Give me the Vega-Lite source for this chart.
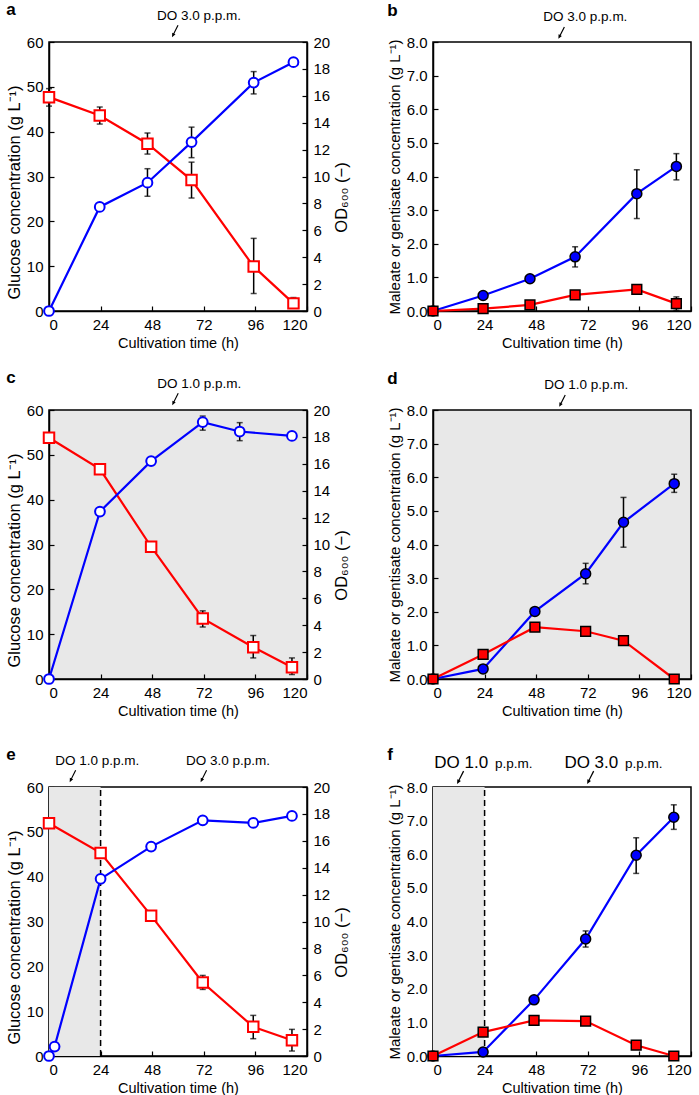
{
"$schema": "https://vega.github.io/schema/vega-lite/v6.json",
"background": "white",
"padding": {"left": 5, "top": 0, "right": 2, "bottom": 0},
"datasets": {
"obs": [
{"p":"a","s":"glc","t":0,"v":47.7,"lo":45.7,"hi":49.6},
{"p":"a","s":"glc","t":23.6,"v":43.6,"lo":41.7,"hi":45.5},
{"p":"a","s":"glc","t":45.8,"v":37.3,"lo":35.0,"hi":39.7},
{"p":"a","s":"glc","t":66.3,"v":29.2,"lo":25.2,"hi":33.2},
{"p":"a","s":"glc","t":95.2,"v":9.9,"lo":3.9,"hi":16.2},
{"p":"a","s":"glc","t":113.7,"v":1.7,"lo":1.0,"hi":3.0},
{"p":"a","s":"od","t":0,"v":0},
{"p":"a","s":"od","t":23.6,"v":7.74},
{"p":"a","s":"od","t":45.8,"v":9.54,"lo":8.53,"hi":10.58},
{"p":"a","s":"od","t":66.3,"v":12.56,"lo":11.4,"hi":13.67},
{"p":"a","s":"od","t":95.2,"v":16.98,"lo":16.14,"hi":17.8},
{"p":"a","s":"od","t":113.7,"v":18.5},
{"p":"b","s":"maleate","t":0,"v":0},
{"p":"b","s":"maleate","t":23.3,"v":0.46},
{"p":"b","s":"maleate","t":45.1,"v":0.96},
{"p":"b","s":"maleate","t":66.1,"v":1.61,"lo":1.31,"hi":1.91},
{"p":"b","s":"maleate","t":94.8,"v":3.49,"lo":2.75,"hi":4.2},
{"p":"b","s":"maleate","t":113.2,"v":4.3,"lo":3.9,"hi":4.68},
{"p":"b","s":"gentisate","t":0,"v":0},
{"p":"b","s":"gentisate","t":23.3,"v":0.07},
{"p":"b","s":"gentisate","t":45.1,"v":0.18},
{"p":"b","s":"gentisate","t":66.1,"v":0.48},
{"p":"b","s":"gentisate","t":94.8,"v":0.64},
{"p":"b","s":"gentisate","t":113.2,"v":0.22,"lo":0.02,"hi":0.42},
{"p":"c","s":"glc","t":0,"v":53.8},
{"p":"c","s":"glc","t":23.7,"v":46.8},
{"p":"c","s":"glc","t":47.5,"v":29.5},
{"p":"c","s":"glc","t":71.5,"v":13.5,"lo":11.6,"hi":15.2},
{"p":"c","s":"glc","t":95,"v":7.1,"lo":4.7,"hi":9.7},
{"p":"c","s":"glc","t":113,"v":2.6,"lo":1.0,"hi":4.7},
{"p":"c","s":"od","t":0,"v":0},
{"p":"c","s":"od","t":23.7,"v":12.45},
{"p":"c","s":"od","t":47.5,"v":16.2},
{"p":"c","s":"od","t":71.5,"v":19.1,"lo":18.5,"hi":19.55},
{"p":"c","s":"od","t":88.7,"v":18.4,"lo":17.72,"hi":19.06},
{"p":"c","s":"od","t":113,"v":18.07},
{"p":"d","s":"maleate","t":0,"v":0},
{"p":"d","s":"maleate","t":23.3,"v":0.3},
{"p":"d","s":"maleate","t":47.4,"v":2.01},
{"p":"d","s":"maleate","t":71,"v":3.13,"lo":2.83,"hi":3.44},
{"p":"d","s":"maleate","t":88.6,"v":4.66,"lo":3.92,"hi":5.4},
{"p":"d","s":"maleate","t":112.2,"v":5.81,"lo":5.55,"hi":6.09},
{"p":"d","s":"gentisate","t":0,"v":0},
{"p":"d","s":"gentisate","t":23.3,"v":0.73},
{"p":"d","s":"gentisate","t":47.4,"v":1.54},
{"p":"d","s":"gentisate","t":71,"v":1.42},
{"p":"d","s":"gentisate","t":88.6,"v":1.14},
{"p":"d","s":"gentisate","t":112.2,"v":0},
{"p":"e","s":"glc","t":0,"v":51.9},
{"p":"e","s":"glc","t":24,"v":45.3},
{"p":"e","s":"glc","t":47.5,"v":31.3},
{"p":"e","s":"glc","t":71.5,"v":16.4,"lo":14.85,"hi":17.97},
{"p":"e","s":"glc","t":95,"v":6.5,"lo":3.86,"hi":9.06},
{"p":"e","s":"glc","t":113,"v":3.5,"lo":1.11,"hi":5.94},
{"p":"e","s":"od","t":0,"v":0},
{"p":"e","s":"od","t":2.6,"v":0.7},
{"p":"e","s":"od","t":24,"v":13.17},
{"p":"e","s":"od","t":47.5,"v":15.57},
{"p":"e","s":"od","t":71.5,"v":17.52},
{"p":"e","s":"od","t":95,"v":17.33},
{"p":"e","s":"od","t":113,"v":17.85},
{"p":"f","s":"maleate","t":0,"v":0},
{"p":"f","s":"maleate","t":23.3,"v":0.12},
{"p":"f","s":"maleate","t":47,"v":1.67},
{"p":"f","s":"maleate","t":71,"v":3.48,"lo":3.24,"hi":3.72},
{"p":"f","s":"maleate","t":94.5,"v":5.97,"lo":5.43,"hi":6.49},
{"p":"f","s":"maleate","t":112,"v":7.1,"lo":6.74,"hi":7.47},
{"p":"f","s":"gentisate","t":0,"v":0},
{"p":"f","s":"gentisate","t":23.3,"v":0.71},
{"p":"f","s":"gentisate","t":47,"v":1.06},
{"p":"f","s":"gentisate","t":71,"v":1.04},
{"p":"f","s":"gentisate","t":94.5,"v":0.32},
{"p":"f","s":"gentisate","t":112,"v":0}
],
"notes": [
{"p":"a","t":58.6,"label":"DO 3.0 p.p.m."},
{"p":"b","t":59.7,"label":"DO 3.0 p.p.m."},
{"p":"c","t":58.7,"label":"DO 1.0 p.p.m."},
{"p":"d","t":60.1,"label":"DO 1.0 p.p.m."},
{"p":"e","t":11.0,"label":"DO 1.0 p.p.m."},
{"p":"e","t":71.9,"label":"DO 3.0 p.p.m."},
{"p":"f","t":12.7,"label":"DO 1.0"},
{"p":"f","t":73.2,"label":"DO 3.0"}
],
"phases": [
{"p":"e","t0":0,"t1":24},
{"p":"f","t0":0,"t1":24}
]
},
"spacing": 17,
"vconcat": [
{"spacing": 35, "hconcat": [
{
"width": 258, "height": 269,
"title": {"text": "a"},
"layer": [
{"layer": [
{"data": {"name": "obs"}, "transform": [{"filter": "datum.p==='a' && datum.s==='glc' && isValid(datum.lo)"}],
 "mark": {"type": "errorbar", "color": "black", "ticks": {"size": 6, "thickness": 1.5}, "rule": {"strokeWidth": 1.5}},
 "encoding": {"x": {"field": "t", "type": "quantitative", "scale": {"domain": [0,120]}, "axis": {"values": [0,24,48,72,96,120]}, "title": "Cultivation time (h)"},
  "y": {"field": "lo", "type": "quantitative", "scale": {"domain": [0,60]}, "axis": {"values": [0,10,20,30,40,50,60], "orient": "left", "titleFontSize": 16.5, "titleY": 150}, "title": "Glucose concentration (g L⁻¹)"}, "y2": {"field": "hi"}}},
{"data": {"name": "obs"}, "transform": [{"filter": "datum.p==='a' && datum.s==='glc'"}],
 "mark": {"type": "line", "color": "#ff0000", "strokeWidth": 2.2},
 "encoding": {"x": {"field": "t", "type": "quantitative", "scale": {"domain": [0,120]}, "axis": {"values": [0,24,48,72,96,120]}, "title": "Cultivation time (h)"},
  "y": {"field": "v", "type": "quantitative", "scale": {"domain": [0,60]}, "axis": {"values": [0,10,20,30,40,50,60], "orient": "left", "titleFontSize": 16.5, "titleY": 150}, "title": "Glucose concentration (g L⁻¹)"}}},
{"data": {"name": "obs"}, "transform": [{"filter": "datum.p==='a' && datum.s==='glc'"}],
 "mark": {"type": "point", "shape": "square", "filled": true, "fill": "white", "stroke": "#ff0000", "strokeWidth": 2, "size": 110, "opacity": 1},
 "encoding": {"x": {"field": "t", "type": "quantitative", "scale": {"domain": [0,120]}, "axis": {"values": [0,24,48,72,96,120]}, "title": "Cultivation time (h)"},
  "y": {"field": "v", "type": "quantitative", "scale": {"domain": [0,60]}, "axis": {"values": [0,10,20,30,40,50,60], "orient": "left", "titleFontSize": 16.5, "titleY": 150}, "title": "Glucose concentration (g L⁻¹)"}}},
{"data": {"name": "notes"}, "transform": [{"filter": "datum.p==='a'"}],
 "mark": {"type": "point", "shape": "M0.6,-0.96L-0.11,0.42L0.09,0.52L-0.5,1L-0.47,0.24L-0.27,0.33L0.42,-1.05Z", "filled": true, "color": "black", "size": 140, "opacity": 1},
 "encoding": {"x": {"field": "t", "type": "quantitative", "scale": {"domain": [0,120]}, "axis": {"values": [0,24,48,72,96,120]}, "title": "Cultivation time (h)"},
  "y": {"datum": 62.4, "type": "quantitative", "scale": {"domain": [0,60]}, "axis": {"values": [0,10,20,30,40,50,60], "orient": "left", "titleFontSize": 16.5, "titleY": 150}, "title": "Glucose concentration (g L⁻¹)"}}},
{"data": {"name": "notes"}, "transform": [{"filter": "datum.p==='a'"}],
 "mark": {"type": "text", "dx": 24, "align": "center", "baseline": "middle", "fontSize": 13.5, "color": "black"},
 "encoding": {"x": {"field": "t", "type": "quantitative", "scale": {"domain": [0,120]}, "axis": {"values": [0,24,48,72,96,120]}, "title": "Cultivation time (h)"},
  "y": {"datum": 65.8, "type": "quantitative", "scale": {"domain": [0,60]}, "axis": {"values": [0,10,20,30,40,50,60], "orient": "left", "titleFontSize": 16.5, "titleY": 150}, "title": "Glucose concentration (g L⁻¹)"}, "text": {"field": "label"}}}
]},
{"layer": [
{"data": {"name": "obs"}, "transform": [{"filter": "datum.p==='a' && datum.s==='od' && isValid(datum.lo)"}],
 "mark": {"type": "errorbar", "color": "black", "ticks": {"size": 6, "thickness": 1.5}, "rule": {"strokeWidth": 1.5}},
 "encoding": {"x": {"field": "t", "type": "quantitative", "scale": {"domain": [0,120]}, "axis": {"values": [0,24,48,72,96,120]}, "title": "Cultivation time (h)"},
  "y": {"field": "lo", "type": "quantitative", "scale": {"domain": [0,20]}, "axis": {"values": [0,2,4,6,8,10,12,14,16,18,20], "orient": "right", "titleAngle": 270, "titleBaseline": "top", "titleFontSize": 16.5, "titleY": 155}, "title": "OD₆₀₀ (−)"}, "y2": {"field": "hi"}}},
{"data": {"name": "obs"}, "transform": [{"filter": "datum.p==='a' && datum.s==='od'"}],
 "mark": {"type": "line", "color": "#0000ff", "strokeWidth": 2.2},
 "encoding": {"x": {"field": "t", "type": "quantitative", "scale": {"domain": [0,120]}, "axis": {"values": [0,24,48,72,96,120]}, "title": "Cultivation time (h)"},
  "y": {"field": "v", "type": "quantitative", "scale": {"domain": [0,20]}, "axis": {"values": [0,2,4,6,8,10,12,14,16,18,20], "orient": "right", "titleAngle": 270, "titleBaseline": "top", "titleFontSize": 16.5, "titleY": 155}, "title": "OD₆₀₀ (−)"}}},
{"data": {"name": "obs"}, "transform": [{"filter": "datum.p==='a' && datum.s==='od'"}],
 "mark": {"type": "point", "shape": "circle", "filled": true, "fill": "white", "stroke": "#0000ff", "strokeWidth": 2, "size": 95, "opacity": 1},
 "encoding": {"x": {"field": "t", "type": "quantitative", "scale": {"domain": [0,120]}, "axis": {"values": [0,24,48,72,96,120]}, "title": "Cultivation time (h)"},
  "y": {"field": "v", "type": "quantitative", "scale": {"domain": [0,20]}, "axis": {"values": [0,2,4,6,8,10,12,14,16,18,20], "orient": "right", "titleAngle": 270, "titleBaseline": "top", "titleFontSize": 16.5, "titleY": 155}, "title": "OD₆₀₀ (−)"}}}
]}
],
"resolve": {"scale": {"y": "independent"}}
},
{
"width": 258, "height": 269,
"title": {"text": "b"},
"layer": [
{"data": {"name": "obs"}, "transform": [{"filter": "datum.p==='b' && datum.s==='maleate' && isValid(datum.lo)"}],
 "mark": {"type": "errorbar", "color": "black", "ticks": {"size": 6, "thickness": 1.5}, "rule": {"strokeWidth": 1.5}},
 "encoding": {"x": {"field": "t", "type": "quantitative", "scale": {"domain": [0,120]}, "axis": {"values": [0,24,48,72,96,120]}, "title": "Cultivation time (h)"},
  "y": {"field": "lo", "type": "quantitative", "scale": {"domain": [0,8]}, "axis": {"values": [0,1,2,3,4,5,6,7,8], "format": ".1f", "titleFontSize": 15}, "title": "Maleate or gentisate concentration (g L⁻¹)"}, "y2": {"field": "hi"}}},
{"data": {"name": "obs"}, "transform": [{"filter": "datum.p==='b' && datum.s==='maleate'"}],
 "mark": {"type": "line", "color": "#0000ff", "strokeWidth": 2.2},
 "encoding": {"x": {"field": "t", "type": "quantitative", "scale": {"domain": [0,120]}, "axis": {"values": [0,24,48,72,96,120]}, "title": "Cultivation time (h)"},
  "y": {"field": "v", "type": "quantitative", "scale": {"domain": [0,8]}, "axis": {"values": [0,1,2,3,4,5,6,7,8], "format": ".1f", "titleFontSize": 15}, "title": "Maleate or gentisate concentration (g L⁻¹)"}}},
{"data": {"name": "obs"}, "transform": [{"filter": "datum.p==='b' && datum.s==='maleate'"}],
 "mark": {"type": "point", "shape": "circle", "filled": true, "fill": "#0000ff", "stroke": "black", "strokeWidth": 1.5, "size": 100, "opacity": 1},
 "encoding": {"x": {"field": "t", "type": "quantitative", "scale": {"domain": [0,120]}, "axis": {"values": [0,24,48,72,96,120]}, "title": "Cultivation time (h)"},
  "y": {"field": "v", "type": "quantitative", "scale": {"domain": [0,8]}, "axis": {"values": [0,1,2,3,4,5,6,7,8], "format": ".1f", "titleFontSize": 15}, "title": "Maleate or gentisate concentration (g L⁻¹)"}}},
{"data": {"name": "obs"}, "transform": [{"filter": "datum.p==='b' && datum.s==='gentisate' && isValid(datum.lo)"}],
 "mark": {"type": "errorbar", "color": "black", "ticks": {"size": 6, "thickness": 1.5}, "rule": {"strokeWidth": 1.5}},
 "encoding": {"x": {"field": "t", "type": "quantitative", "scale": {"domain": [0,120]}, "axis": {"values": [0,24,48,72,96,120]}, "title": "Cultivation time (h)"},
  "y": {"field": "lo", "type": "quantitative", "scale": {"domain": [0,8]}, "axis": {"values": [0,1,2,3,4,5,6,7,8], "format": ".1f", "titleFontSize": 15}, "title": "Maleate or gentisate concentration (g L⁻¹)"}, "y2": {"field": "hi"}}},
{"data": {"name": "obs"}, "transform": [{"filter": "datum.p==='b' && datum.s==='gentisate'"}],
 "mark": {"type": "line", "color": "#ff0000", "strokeWidth": 2.2},
 "encoding": {"x": {"field": "t", "type": "quantitative", "scale": {"domain": [0,120]}, "axis": {"values": [0,24,48,72,96,120]}, "title": "Cultivation time (h)"},
  "y": {"field": "v", "type": "quantitative", "scale": {"domain": [0,8]}, "axis": {"values": [0,1,2,3,4,5,6,7,8], "format": ".1f", "titleFontSize": 15}, "title": "Maleate or gentisate concentration (g L⁻¹)"}}},
{"data": {"name": "obs"}, "transform": [{"filter": "datum.p==='b' && datum.s==='gentisate'"}],
 "mark": {"type": "point", "shape": "square", "filled": true, "fill": "#ff0000", "stroke": "black", "strokeWidth": 1.5, "size": 95, "opacity": 1},
 "encoding": {"x": {"field": "t", "type": "quantitative", "scale": {"domain": [0,120]}, "axis": {"values": [0,24,48,72,96,120]}, "title": "Cultivation time (h)"},
  "y": {"field": "v", "type": "quantitative", "scale": {"domain": [0,8]}, "axis": {"values": [0,1,2,3,4,5,6,7,8], "format": ".1f", "titleFontSize": 15}, "title": "Maleate or gentisate concentration (g L⁻¹)"}}},
{"data": {"name": "notes"}, "transform": [{"filter": "datum.p==='b'"}],
 "mark": {"type": "point", "shape": "M0.6,-0.96L-0.11,0.42L0.09,0.52L-0.5,1L-0.47,0.24L-0.27,0.33L0.42,-1.05Z", "filled": true, "color": "black", "size": 140, "opacity": 1},
 "encoding": {"x": {"field": "t", "type": "quantitative", "scale": {"domain": [0,120]}, "axis": {"values": [0,24,48,72,96,120]}, "title": "Cultivation time (h)"},
  "y": {"datum": 8.27, "type": "quantitative", "scale": {"domain": [0,8]}, "axis": {"values": [0,1,2,3,4,5,6,7,8], "format": ".1f", "titleFontSize": 15}, "title": "Maleate or gentisate concentration (g L⁻¹)"}}},
{"data": {"name": "notes"}, "transform": [{"filter": "datum.p==='b'"}],
 "mark": {"type": "text", "dx": 24, "align": "center", "baseline": "middle", "fontSize": 13.5, "color": "black"},
 "encoding": {"x": {"field": "t", "type": "quantitative", "scale": {"domain": [0,120]}, "axis": {"values": [0,24,48,72,96,120]}, "title": "Cultivation time (h)"},
  "y": {"datum": 8.74, "type": "quantitative", "scale": {"domain": [0,8]}, "axis": {"values": [0,1,2,3,4,5,6,7,8], "format": ".1f", "titleFontSize": 15}, "title": "Maleate or gentisate concentration (g L⁻¹)"}, "text": {"field": "label"}}}
]
}
]},
{"spacing": 26, "vconcat": [
{"spacing": 35, "hconcat": [
{
"width": 258, "height": 269,
"title": {"text": "c"},
"view": {"fill": "#e8e8e8", "stroke": "black", "strokeWidth": 1.5},
"layer": [
{"layer": [
{"data": {"name": "obs"}, "transform": [{"filter": "datum.p==='c' && datum.s==='glc' && isValid(datum.lo)"}],
 "mark": {"type": "errorbar", "color": "black", "ticks": {"size": 6, "thickness": 1.5}, "rule": {"strokeWidth": 1.5}},
 "encoding": {"x": {"field": "t", "type": "quantitative", "scale": {"domain": [0,120]}, "axis": {"values": [0,24,48,72,96,120]}, "title": "Cultivation time (h)"},
  "y": {"field": "lo", "type": "quantitative", "scale": {"domain": [0,60]}, "axis": {"values": [0,10,20,30,40,50,60], "orient": "left", "titleFontSize": 16.5, "titleY": 150}, "title": "Glucose concentration (g L⁻¹)"}, "y2": {"field": "hi"}}},
{"data": {"name": "obs"}, "transform": [{"filter": "datum.p==='c' && datum.s==='glc'"}],
 "mark": {"type": "line", "color": "#ff0000", "strokeWidth": 2.2},
 "encoding": {"x": {"field": "t", "type": "quantitative", "scale": {"domain": [0,120]}, "axis": {"values": [0,24,48,72,96,120]}, "title": "Cultivation time (h)"},
  "y": {"field": "v", "type": "quantitative", "scale": {"domain": [0,60]}, "axis": {"values": [0,10,20,30,40,50,60], "orient": "left", "titleFontSize": 16.5, "titleY": 150}, "title": "Glucose concentration (g L⁻¹)"}}},
{"data": {"name": "obs"}, "transform": [{"filter": "datum.p==='c' && datum.s==='glc'"}],
 "mark": {"type": "point", "shape": "square", "filled": true, "fill": "white", "stroke": "#ff0000", "strokeWidth": 2, "size": 110, "opacity": 1},
 "encoding": {"x": {"field": "t", "type": "quantitative", "scale": {"domain": [0,120]}, "axis": {"values": [0,24,48,72,96,120]}, "title": "Cultivation time (h)"},
  "y": {"field": "v", "type": "quantitative", "scale": {"domain": [0,60]}, "axis": {"values": [0,10,20,30,40,50,60], "orient": "left", "titleFontSize": 16.5, "titleY": 150}, "title": "Glucose concentration (g L⁻¹)"}}},
{"data": {"name": "notes"}, "transform": [{"filter": "datum.p==='c'"}],
 "mark": {"type": "point", "shape": "M0.6,-0.96L-0.11,0.42L0.09,0.52L-0.5,1L-0.47,0.24L-0.27,0.33L0.42,-1.05Z", "filled": true, "color": "black", "size": 140, "opacity": 1},
 "encoding": {"x": {"field": "t", "type": "quantitative", "scale": {"domain": [0,120]}, "axis": {"values": [0,24,48,72,96,120]}, "title": "Cultivation time (h)"},
  "y": {"datum": 62.4, "type": "quantitative", "scale": {"domain": [0,60]}, "axis": {"values": [0,10,20,30,40,50,60], "orient": "left", "titleFontSize": 16.5, "titleY": 150}, "title": "Glucose concentration (g L⁻¹)"}}},
{"data": {"name": "notes"}, "transform": [{"filter": "datum.p==='c'"}],
 "mark": {"type": "text", "dx": 24, "align": "center", "baseline": "middle", "fontSize": 13.5, "color": "black"},
 "encoding": {"x": {"field": "t", "type": "quantitative", "scale": {"domain": [0,120]}, "axis": {"values": [0,24,48,72,96,120]}, "title": "Cultivation time (h)"},
  "y": {"datum": 65.8, "type": "quantitative", "scale": {"domain": [0,60]}, "axis": {"values": [0,10,20,30,40,50,60], "orient": "left", "titleFontSize": 16.5, "titleY": 150}, "title": "Glucose concentration (g L⁻¹)"}, "text": {"field": "label"}}}
]},
{"layer": [
{"data": {"name": "obs"}, "transform": [{"filter": "datum.p==='c' && datum.s==='od' && isValid(datum.lo)"}],
 "mark": {"type": "errorbar", "color": "black", "ticks": {"size": 6, "thickness": 1.5}, "rule": {"strokeWidth": 1.5}},
 "encoding": {"x": {"field": "t", "type": "quantitative", "scale": {"domain": [0,120]}, "axis": {"values": [0,24,48,72,96,120]}, "title": "Cultivation time (h)"},
  "y": {"field": "lo", "type": "quantitative", "scale": {"domain": [0,20]}, "axis": {"values": [0,2,4,6,8,10,12,14,16,18,20], "orient": "right", "titleAngle": 270, "titleBaseline": "top", "titleFontSize": 16.5, "titleY": 155}, "title": "OD₆₀₀ (−)"}, "y2": {"field": "hi"}}},
{"data": {"name": "obs"}, "transform": [{"filter": "datum.p==='c' && datum.s==='od'"}],
 "mark": {"type": "line", "color": "#0000ff", "strokeWidth": 2.2},
 "encoding": {"x": {"field": "t", "type": "quantitative", "scale": {"domain": [0,120]}, "axis": {"values": [0,24,48,72,96,120]}, "title": "Cultivation time (h)"},
  "y": {"field": "v", "type": "quantitative", "scale": {"domain": [0,20]}, "axis": {"values": [0,2,4,6,8,10,12,14,16,18,20], "orient": "right", "titleAngle": 270, "titleBaseline": "top", "titleFontSize": 16.5, "titleY": 155}, "title": "OD₆₀₀ (−)"}}},
{"data": {"name": "obs"}, "transform": [{"filter": "datum.p==='c' && datum.s==='od'"}],
 "mark": {"type": "point", "shape": "circle", "filled": true, "fill": "white", "stroke": "#0000ff", "strokeWidth": 2, "size": 95, "opacity": 1},
 "encoding": {"x": {"field": "t", "type": "quantitative", "scale": {"domain": [0,120]}, "axis": {"values": [0,24,48,72,96,120]}, "title": "Cultivation time (h)"},
  "y": {"field": "v", "type": "quantitative", "scale": {"domain": [0,20]}, "axis": {"values": [0,2,4,6,8,10,12,14,16,18,20], "orient": "right", "titleAngle": 270, "titleBaseline": "top", "titleFontSize": 16.5, "titleY": 155}, "title": "OD₆₀₀ (−)"}}}
]}
],
"resolve": {"scale": {"y": "independent"}}
},
{
"width": 258, "height": 269,
"title": {"text": "d"},
"view": {"fill": "#e8e8e8", "stroke": "black", "strokeWidth": 1.5},
"layer": [
{"data": {"name": "obs"}, "transform": [{"filter": "datum.p==='d' && datum.s==='maleate' && isValid(datum.lo)"}],
 "mark": {"type": "errorbar", "color": "black", "ticks": {"size": 6, "thickness": 1.5}, "rule": {"strokeWidth": 1.5}},
 "encoding": {"x": {"field": "t", "type": "quantitative", "scale": {"domain": [0,120]}, "axis": {"values": [0,24,48,72,96,120]}, "title": "Cultivation time (h)"},
  "y": {"field": "lo", "type": "quantitative", "scale": {"domain": [0,8]}, "axis": {"values": [0,1,2,3,4,5,6,7,8], "format": ".1f", "titleFontSize": 15}, "title": "Maleate or gentisate concentration (g L⁻¹)"}, "y2": {"field": "hi"}}},
{"data": {"name": "obs"}, "transform": [{"filter": "datum.p==='d' && datum.s==='maleate'"}],
 "mark": {"type": "line", "color": "#0000ff", "strokeWidth": 2.2},
 "encoding": {"x": {"field": "t", "type": "quantitative", "scale": {"domain": [0,120]}, "axis": {"values": [0,24,48,72,96,120]}, "title": "Cultivation time (h)"},
  "y": {"field": "v", "type": "quantitative", "scale": {"domain": [0,8]}, "axis": {"values": [0,1,2,3,4,5,6,7,8], "format": ".1f", "titleFontSize": 15}, "title": "Maleate or gentisate concentration (g L⁻¹)"}}},
{"data": {"name": "obs"}, "transform": [{"filter": "datum.p==='d' && datum.s==='maleate'"}],
 "mark": {"type": "point", "shape": "circle", "filled": true, "fill": "#0000ff", "stroke": "black", "strokeWidth": 1.5, "size": 100, "opacity": 1},
 "encoding": {"x": {"field": "t", "type": "quantitative", "scale": {"domain": [0,120]}, "axis": {"values": [0,24,48,72,96,120]}, "title": "Cultivation time (h)"},
  "y": {"field": "v", "type": "quantitative", "scale": {"domain": [0,8]}, "axis": {"values": [0,1,2,3,4,5,6,7,8], "format": ".1f", "titleFontSize": 15}, "title": "Maleate or gentisate concentration (g L⁻¹)"}}},
{"data": {"name": "obs"}, "transform": [{"filter": "datum.p==='d' && datum.s==='gentisate'"}],
 "mark": {"type": "line", "color": "#ff0000", "strokeWidth": 2.2},
 "encoding": {"x": {"field": "t", "type": "quantitative", "scale": {"domain": [0,120]}, "axis": {"values": [0,24,48,72,96,120]}, "title": "Cultivation time (h)"},
  "y": {"field": "v", "type": "quantitative", "scale": {"domain": [0,8]}, "axis": {"values": [0,1,2,3,4,5,6,7,8], "format": ".1f", "titleFontSize": 15}, "title": "Maleate or gentisate concentration (g L⁻¹)"}}},
{"data": {"name": "obs"}, "transform": [{"filter": "datum.p==='d' && datum.s==='gentisate'"}],
 "mark": {"type": "point", "shape": "square", "filled": true, "fill": "#ff0000", "stroke": "black", "strokeWidth": 1.5, "size": 95, "opacity": 1},
 "encoding": {"x": {"field": "t", "type": "quantitative", "scale": {"domain": [0,120]}, "axis": {"values": [0,24,48,72,96,120]}, "title": "Cultivation time (h)"},
  "y": {"field": "v", "type": "quantitative", "scale": {"domain": [0,8]}, "axis": {"values": [0,1,2,3,4,5,6,7,8], "format": ".1f", "titleFontSize": 15}, "title": "Maleate or gentisate concentration (g L⁻¹)"}}},
{"data": {"name": "notes"}, "transform": [{"filter": "datum.p==='d'"}],
 "mark": {"type": "point", "shape": "M0.6,-0.96L-0.11,0.42L0.09,0.52L-0.5,1L-0.47,0.24L-0.27,0.33L0.42,-1.05Z", "filled": true, "color": "black", "size": 140, "opacity": 1},
 "encoding": {"x": {"field": "t", "type": "quantitative", "scale": {"domain": [0,120]}, "axis": {"values": [0,24,48,72,96,120]}, "title": "Cultivation time (h)"},
  "y": {"datum": 8.27, "type": "quantitative", "scale": {"domain": [0,8]}, "axis": {"values": [0,1,2,3,4,5,6,7,8], "format": ".1f", "titleFontSize": 15}, "title": "Maleate or gentisate concentration (g L⁻¹)"}}},
{"data": {"name": "notes"}, "transform": [{"filter": "datum.p==='d'"}],
 "mark": {"type": "text", "dx": 24, "align": "center", "baseline": "middle", "fontSize": 13.5, "color": "black"},
 "encoding": {"x": {"field": "t", "type": "quantitative", "scale": {"domain": [0,120]}, "axis": {"values": [0,24,48,72,96,120]}, "title": "Cultivation time (h)"},
  "y": {"datum": 8.74, "type": "quantitative", "scale": {"domain": [0,8]}, "axis": {"values": [0,1,2,3,4,5,6,7,8], "format": ".1f", "titleFontSize": 15}, "title": "Maleate or gentisate concentration (g L⁻¹)"}, "text": {"field": "label"}}}
]
}
]},
{"spacing": 35, "hconcat": [
{
"width": 258, "height": 269,
"title": {"text": "e"},
"layer": [
{"layer": [
{"data": {"name": "phases"}, "transform": [{"filter": "datum.p==='e'"}],
 "mark": {"type": "rect", "color": "#e8e8e8", "opacity": 1},
 "encoding": {"x": {"field": "t0", "type": "quantitative", "scale": {"domain": [0,120]}, "axis": {"values": [0,24,48,72,96,120]}, "title": "Cultivation time (h)"}, "x2": {"field": "t1"},
  "y": {"datum": 0, "type": "quantitative", "scale": {"domain": [0,60]}, "axis": {"values": [0,10,20,30,40,50,60], "orient": "left", "titleFontSize": 16.5, "titleY": 150}, "title": "Glucose concentration (g L⁻¹)"}, "y2": {"datum": 60}}},
{"data": {"name": "phases"}, "transform": [{"filter": "datum.p==='e'"}],
 "mark": {"type": "rule", "color": "black", "strokeWidth": 1.5, "strokeDash": [6, 4]},
 "encoding": {"x": {"field": "t1", "type": "quantitative", "scale": {"domain": [0,120]}, "axis": {"values": [0,24,48,72,96,120]}, "title": "Cultivation time (h)"},
  "y": {"datum": 0, "type": "quantitative", "scale": {"domain": [0,60]}, "axis": {"values": [0,10,20,30,40,50,60], "orient": "left", "titleFontSize": 16.5, "titleY": 150}, "title": "Glucose concentration (g L⁻¹)"}, "y2": {"datum": 60}}},
{"data": {"name": "obs"}, "transform": [{"filter": "datum.p==='e' && datum.s==='glc' && isValid(datum.lo)"}],
 "mark": {"type": "errorbar", "color": "black", "ticks": {"size": 6, "thickness": 1.5}, "rule": {"strokeWidth": 1.5}},
 "encoding": {"x": {"field": "t", "type": "quantitative", "scale": {"domain": [0,120]}, "axis": {"values": [0,24,48,72,96,120]}, "title": "Cultivation time (h)"},
  "y": {"field": "lo", "type": "quantitative", "scale": {"domain": [0,60]}, "axis": {"values": [0,10,20,30,40,50,60], "orient": "left", "titleFontSize": 16.5, "titleY": 150}, "title": "Glucose concentration (g L⁻¹)"}, "y2": {"field": "hi"}}},
{"data": {"name": "obs"}, "transform": [{"filter": "datum.p==='e' && datum.s==='glc'"}],
 "mark": {"type": "line", "color": "#ff0000", "strokeWidth": 2.2},
 "encoding": {"x": {"field": "t", "type": "quantitative", "scale": {"domain": [0,120]}, "axis": {"values": [0,24,48,72,96,120]}, "title": "Cultivation time (h)"},
  "y": {"field": "v", "type": "quantitative", "scale": {"domain": [0,60]}, "axis": {"values": [0,10,20,30,40,50,60], "orient": "left", "titleFontSize": 16.5, "titleY": 150}, "title": "Glucose concentration (g L⁻¹)"}}},
{"data": {"name": "obs"}, "transform": [{"filter": "datum.p==='e' && datum.s==='glc'"}],
 "mark": {"type": "point", "shape": "square", "filled": true, "fill": "white", "stroke": "#ff0000", "strokeWidth": 2, "size": 110, "opacity": 1},
 "encoding": {"x": {"field": "t", "type": "quantitative", "scale": {"domain": [0,120]}, "axis": {"values": [0,24,48,72,96,120]}, "title": "Cultivation time (h)"},
  "y": {"field": "v", "type": "quantitative", "scale": {"domain": [0,60]}, "axis": {"values": [0,10,20,30,40,50,60], "orient": "left", "titleFontSize": 16.5, "titleY": 150}, "title": "Glucose concentration (g L⁻¹)"}}},
{"data": {"name": "notes"}, "transform": [{"filter": "datum.p==='e'"}],
 "mark": {"type": "point", "shape": "M0.6,-0.96L-0.11,0.42L0.09,0.52L-0.5,1L-0.47,0.24L-0.27,0.33L0.42,-1.05Z", "filled": true, "color": "black", "size": 140, "opacity": 1},
 "encoding": {"x": {"field": "t", "type": "quantitative", "scale": {"domain": [0,120]}, "axis": {"values": [0,24,48,72,96,120]}, "title": "Cultivation time (h)"},
  "y": {"datum": 62.4, "type": "quantitative", "scale": {"domain": [0,60]}, "axis": {"values": [0,10,20,30,40,50,60], "orient": "left", "titleFontSize": 16.5, "titleY": 150}, "title": "Glucose concentration (g L⁻¹)"}}},
{"data": {"name": "notes"}, "transform": [{"filter": "datum.p==='e'"}],
 "mark": {"type": "text", "dx": 24.5, "align": "center", "baseline": "middle", "fontSize": 13.5, "color": "black"},
 "encoding": {"x": {"field": "t", "type": "quantitative", "scale": {"domain": [0,120]}, "axis": {"values": [0,24,48,72,96,120]}, "title": "Cultivation time (h)"},
  "y": {"datum": 65.8, "type": "quantitative", "scale": {"domain": [0,60]}, "axis": {"values": [0,10,20,30,40,50,60], "orient": "left", "titleFontSize": 16.5, "titleY": 150}, "title": "Glucose concentration (g L⁻¹)"}, "text": {"field": "label"}}}
]},
{"layer": [
{"data": {"name": "obs"}, "transform": [{"filter": "datum.p==='e' && datum.s==='od'"}],
 "mark": {"type": "line", "color": "#0000ff", "strokeWidth": 2.2},
 "encoding": {"x": {"field": "t", "type": "quantitative", "scale": {"domain": [0,120]}, "axis": {"values": [0,24,48,72,96,120]}, "title": "Cultivation time (h)"},
  "y": {"field": "v", "type": "quantitative", "scale": {"domain": [0,20]}, "axis": {"values": [0,2,4,6,8,10,12,14,16,18,20], "orient": "right", "titleAngle": 270, "titleBaseline": "top", "titleFontSize": 16.5, "titleY": 155}, "title": "OD₆₀₀ (−)"}}},
{"data": {"name": "obs"}, "transform": [{"filter": "datum.p==='e' && datum.s==='od'"}],
 "mark": {"type": "point", "shape": "circle", "filled": true, "fill": "white", "stroke": "#0000ff", "strokeWidth": 2, "size": 95, "opacity": 1},
 "encoding": {"x": {"field": "t", "type": "quantitative", "scale": {"domain": [0,120]}, "axis": {"values": [0,24,48,72,96,120]}, "title": "Cultivation time (h)"},
  "y": {"field": "v", "type": "quantitative", "scale": {"domain": [0,20]}, "axis": {"values": [0,2,4,6,8,10,12,14,16,18,20], "orient": "right", "titleAngle": 270, "titleBaseline": "top", "titleFontSize": 16.5, "titleY": 155}, "title": "OD₆₀₀ (−)"}}}
]}
],
"resolve": {"scale": {"y": "independent"}}
},
{
"width": 258, "height": 269,
"title": {"text": "f"},
"layer": [
{"data": {"name": "phases"}, "transform": [{"filter": "datum.p==='f'"}],
 "mark": {"type": "rect", "color": "#e8e8e8", "opacity": 1},
 "encoding": {"x": {"field": "t0", "type": "quantitative", "scale": {"domain": [0,120]}, "axis": {"values": [0,24,48,72,96,120]}, "title": "Cultivation time (h)"}, "x2": {"field": "t1"},
  "y": {"datum": 0, "type": "quantitative", "scale": {"domain": [0,8]}, "axis": {"values": [0,1,2,3,4,5,6,7,8], "format": ".1f", "titleFontSize": 15}, "title": "Maleate or gentisate concentration (g L⁻¹)"}, "y2": {"datum": 8}}},
{"data": {"name": "phases"}, "transform": [{"filter": "datum.p==='f'"}],
 "mark": {"type": "rule", "color": "black", "strokeWidth": 1.5, "strokeDash": [6, 4]},
 "encoding": {"x": {"field": "t1", "type": "quantitative", "scale": {"domain": [0,120]}, "axis": {"values": [0,24,48,72,96,120]}, "title": "Cultivation time (h)"},
  "y": {"datum": 0, "type": "quantitative", "scale": {"domain": [0,8]}, "axis": {"values": [0,1,2,3,4,5,6,7,8], "format": ".1f", "titleFontSize": 15}, "title": "Maleate or gentisate concentration (g L⁻¹)"}, "y2": {"datum": 8}}},
{"data": {"name": "obs"}, "transform": [{"filter": "datum.p==='f' && datum.s==='maleate' && isValid(datum.lo)"}],
 "mark": {"type": "errorbar", "color": "black", "ticks": {"size": 6, "thickness": 1.5}, "rule": {"strokeWidth": 1.5}},
 "encoding": {"x": {"field": "t", "type": "quantitative", "scale": {"domain": [0,120]}, "axis": {"values": [0,24,48,72,96,120]}, "title": "Cultivation time (h)"},
  "y": {"field": "lo", "type": "quantitative", "scale": {"domain": [0,8]}, "axis": {"values": [0,1,2,3,4,5,6,7,8], "format": ".1f", "titleFontSize": 15}, "title": "Maleate or gentisate concentration (g L⁻¹)"}, "y2": {"field": "hi"}}},
{"data": {"name": "obs"}, "transform": [{"filter": "datum.p==='f' && datum.s==='maleate'"}],
 "mark": {"type": "line", "color": "#0000ff", "strokeWidth": 2.2},
 "encoding": {"x": {"field": "t", "type": "quantitative", "scale": {"domain": [0,120]}, "axis": {"values": [0,24,48,72,96,120]}, "title": "Cultivation time (h)"},
  "y": {"field": "v", "type": "quantitative", "scale": {"domain": [0,8]}, "axis": {"values": [0,1,2,3,4,5,6,7,8], "format": ".1f", "titleFontSize": 15}, "title": "Maleate or gentisate concentration (g L⁻¹)"}}},
{"data": {"name": "obs"}, "transform": [{"filter": "datum.p==='f' && datum.s==='maleate'"}],
 "mark": {"type": "point", "shape": "circle", "filled": true, "fill": "#0000ff", "stroke": "black", "strokeWidth": 1.5, "size": 100, "opacity": 1},
 "encoding": {"x": {"field": "t", "type": "quantitative", "scale": {"domain": [0,120]}, "axis": {"values": [0,24,48,72,96,120]}, "title": "Cultivation time (h)"},
  "y": {"field": "v", "type": "quantitative", "scale": {"domain": [0,8]}, "axis": {"values": [0,1,2,3,4,5,6,7,8], "format": ".1f", "titleFontSize": 15}, "title": "Maleate or gentisate concentration (g L⁻¹)"}}},
{"data": {"name": "obs"}, "transform": [{"filter": "datum.p==='f' && datum.s==='gentisate'"}],
 "mark": {"type": "line", "color": "#ff0000", "strokeWidth": 2.2},
 "encoding": {"x": {"field": "t", "type": "quantitative", "scale": {"domain": [0,120]}, "axis": {"values": [0,24,48,72,96,120]}, "title": "Cultivation time (h)"},
  "y": {"field": "v", "type": "quantitative", "scale": {"domain": [0,8]}, "axis": {"values": [0,1,2,3,4,5,6,7,8], "format": ".1f", "titleFontSize": 15}, "title": "Maleate or gentisate concentration (g L⁻¹)"}}},
{"data": {"name": "obs"}, "transform": [{"filter": "datum.p==='f' && datum.s==='gentisate'"}],
 "mark": {"type": "point", "shape": "square", "filled": true, "fill": "#ff0000", "stroke": "black", "strokeWidth": 1.5, "size": 95, "opacity": 1},
 "encoding": {"x": {"field": "t", "type": "quantitative", "scale": {"domain": [0,120]}, "axis": {"values": [0,24,48,72,96,120]}, "title": "Cultivation time (h)"},
  "y": {"field": "v", "type": "quantitative", "scale": {"domain": [0,8]}, "axis": {"values": [0,1,2,3,4,5,6,7,8], "format": ".1f", "titleFontSize": 15}, "title": "Maleate or gentisate concentration (g L⁻¹)"}}},
{"data": {"name": "notes"}, "transform": [{"filter": "datum.p==='f'"}],
 "mark": {"type": "point", "shape": "M0.6,-0.96L-0.11,0.42L0.09,0.52L-0.5,1L-0.47,0.24L-0.27,0.33L0.42,-1.05Z", "filled": true, "color": "black", "size": 165, "opacity": 1},
 "encoding": {"x": {"field": "t", "type": "quantitative", "scale": {"domain": [0,120]}, "axis": {"values": [0,24,48,72,96,120]}, "title": "Cultivation time (h)"},
  "y": {"datum": 8.28, "type": "quantitative", "scale": {"domain": [0,8]}, "axis": {"values": [0,1,2,3,4,5,6,7,8], "format": ".1f", "titleFontSize": 15}, "title": "Maleate or gentisate concentration (g L⁻¹)"}}},
{"data": {"name": "notes"}, "transform": [{"filter": "datum.p==='f'"}],
 "mark": {"type": "text", "dx": -26, "align": "left", "baseline": "alphabetic", "fontSize": 17, "color": "black"},
 "encoding": {"x": {"field": "t", "type": "quantitative", "scale": {"domain": [0,120]}, "axis": {"values": [0,24,48,72,96,120]}, "title": "Cultivation time (h)"},
  "y": {"datum": 8.565, "type": "quantitative", "scale": {"domain": [0,8]}, "axis": {"values": [0,1,2,3,4,5,6,7,8], "format": ".1f", "titleFontSize": 15}, "title": "Maleate or gentisate concentration (g L⁻¹)"}, "text": {"field": "label"}}},
{"data": {"name": "notes"}, "transform": [{"filter": "datum.p==='f'"}],
 "mark": {"type": "text", "dx": 34.7, "align": "left", "baseline": "alphabetic", "fontSize": 13.5, "color": "black", "text": "p.p.m."},
 "encoding": {"x": {"field": "t", "type": "quantitative", "scale": {"domain": [0,120]}, "axis": {"values": [0,24,48,72,96,120]}, "title": "Cultivation time (h)"},
  "y": {"datum": 8.565, "type": "quantitative", "scale": {"domain": [0,8]}, "axis": {"values": [0,1,2,3,4,5,6,7,8], "format": ".1f", "titleFontSize": 15}, "title": "Maleate or gentisate concentration (g L⁻¹)"}}}
]
}
]}
]}
],
"config": {
"font": "Liberation Sans",
"view": {"stroke": "black", "strokeWidth": 1.5},
"title": {"anchor": "start", "frame": "bounds", "fontSize": 17, "fontWeight": "bold", "color": "black", "offset": -10},
"axis": {"grid": false, "domainColor": "black", "domainWidth": 1.5, "tickColor": "black", "tickWidth": 1.2, "tickSize": -5, "labelPadding": 11, "labelFontSize": 15, "labelColor": "black", "titleFontSize": 14.5, "titleFontWeight": "normal", "titleColor": "black"}
}
}
